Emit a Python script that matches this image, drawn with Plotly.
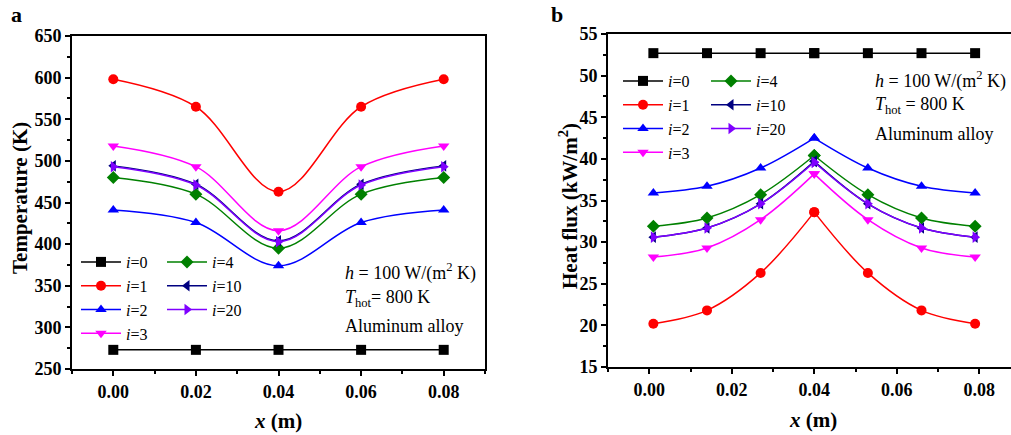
import plotly.graph_objects as go

W, H = 1011, 435

# ---- data -------------------------------------------------------------
labels = ["0", "1", "2", "3", "4", "10", "20"]

# panel a: temperature along the plate
x_a = [0.00, 0.02, 0.04, 0.06, 0.08]
temp = {
    "0": [273, 273, 273, 273, 273],
    "1": [598, 565, 463, 565, 598],
    "2": [441, 426, 374, 426, 441],
    "3": [518, 493, 416, 493, 518],
    "4": [480, 460, 395, 460, 480],
    "10": [494, 472, 404, 472, 494],
    "20": [493, 471, 403, 471, 493],
}

# panel b: heat flux along the plate
x_b = [0.001, 0.014, 0.027, 0.040, 0.053, 0.066, 0.079]
flux = {
    "0": [52.7, 52.7, 52.7, 52.7, 52.7, 52.7, 52.7],
    "1": [20.2, 21.8, 26.3, 33.6, 26.3, 21.8, 20.2],
    "2": [35.9, 36.7, 38.9, 42.5, 38.9, 36.7, 35.9],
    "3": [28.2, 29.3, 32.7, 38.2, 32.7, 29.3, 28.2],
    "4": [31.9, 32.9, 35.7, 40.4, 35.7, 32.9, 31.9],
    "10": [30.6, 31.7, 34.6, 39.7, 34.6, 31.7, 30.6],
    "20": [30.6, 31.7, 34.6, 39.6, 34.6, 31.7, 30.6],
}

colors = {
    "0": "#000000", "1": "#FF0000", "2": "#0000FF", "3": "#FF00FF",
    "4": "#008000", "10": "#000080", "20": "#7F00FF",
}
symbols = {
    "0": "square", "1": "circle", "2": "triangle-up", "3": "triangle-down",
    "4": "diamond", "10": "triangle-left", "20": "triangle-right",
}
col1 = ["0", "1", "2", "3"]

SERIF = "Liberation Serif"


def px(x):
    return x / W


def py(y):
    return 1 - y / H


fig = go.Figure()

for k in labels:
    name = f"<i>i</i>={k}"
    style = dict(color=colors[k], width=1.5, shape="spline", smoothing=1.0)
    mk = dict(symbol=symbols[k], size=10, color=colors[k], line=dict(width=0))
    # panel a
    fig.add_trace(go.Scatter(
        x=x_a, y=temp[k], mode="lines+markers", name=name,
        line=style, marker=mk, xaxis="x", yaxis="y",
        legend="legend" if k in col1 else "legend2",
    ))
    # panel b: each half is smoothed separately so the peak stays sharp
    fig.add_trace(go.Scatter(
        x=x_b[:4], y=flux[k][:4], mode="lines+markers", name=name,
        line=style, marker=mk, xaxis="x2", yaxis="y2",
        legend="legend3" if k in col1 else "legend4",
    ))
    fig.add_trace(go.Scatter(
        x=x_b[3:], y=flux[k][3:], mode="lines+markers", name=name,
        line=style, marker=mk, xaxis="x2", yaxis="y2", showlegend=False,
    ))

tickfont = dict(family=SERIF, size=18, color="black", weight="bold")
common_axis = dict(
    showline=True, linecolor="black", linewidth=2, ticks="outside",
    ticklen=5, tickwidth=1.5, tickcolor="black", showgrid=False,
    zeroline=False, tickfont=tickfont, automargin=False,
)

fig.update_layout(
    width=W, height=H, margin=dict(l=0, r=0, t=0, b=0),
    paper_bgcolor="white", plot_bgcolor="white",
    xaxis=dict(common_axis, domain=[px(72), px(485)], range=[-0.01, 0.09],
               tickvals=[0, 0.02, 0.04, 0.06, 0.08], tickformat=".2f",
               mirror=True, anchor="y",
               minor=dict(dtick=0.01, tick0=0, ticks="outside", ticklen=3,
                          tickcolor="black")),
    yaxis=dict(common_axis, domain=[py(369), py(36)], range=[250, 650],
               dtick=50, mirror=True, anchor="x",
               minor=dict(dtick=25, ticks="outside", ticklen=3,
                          tickcolor="black")),
    xaxis2=dict(common_axis, domain=[px(608), 1.0],
                range=[-0.01, -0.01 + (W - 608) / 4125],
                tickvals=[0, 0.02, 0.04, 0.06, 0.08], tickformat=".2f",
                mirror=True, anchor="y2",
                minor=dict(dtick=0.01, tick0=0, ticks="outside", ticklen=3,
                           tickcolor="black")),
    yaxis2=dict(common_axis, domain=[py(367), py(34)], range=[15, 55],
                dtick=5, mirror=False, anchor="x2",
                minor=dict(dtick=2.5, ticks="outside", ticklen=3,
                           tickcolor="black")),
)

legend_common = dict(
    bgcolor="rgba(0,0,0,0)", borderwidth=0, xanchor="left", yanchor="top",
    font=dict(family=SERIF, size=16, color="black"),
    itemwidth=40, tracegroupgap=0, traceorder="normal",
)
fig.update_layout(
    legend=dict(legend_common, x=px(76), y=py(245)),
    legend2=dict(legend_common, x=px(162), y=py(245)),
    legend3=dict(legend_common, x=px(618), y=py(64)),
    legend4=dict(legend_common, x=px(706), y=py(64)),
)

txt = dict(family=SERIF, size=18, color="black")
bold_big = dict(family=SERIF, size=21, color="black", weight="bold")
notes = [
    ("<i>h</i> = 100 W/(m<sup>2</sup> K)", 343, 272),
    ("<i>T</i><sub>hot</sub>= 800 K", 343, 298),
    ("Aluminum alloy", 343, 326),
]
notes_b = [
    ("<i>h</i> = 100 W/(m<sup>2</sup> K)", 873, 80),
    ("<i>T</i><sub>hot</sub> = 800 K", 873, 105),
    ("Aluminum alloy", 873, 134),
]
annotations = []
for t, xx, yy in notes + notes_b:
    annotations.append(dict(text=t, x=px(xx), y=py(yy), xref="paper",
                            yref="paper", xanchor="left", yanchor="middle",
                            showarrow=False, font=txt))
# axis titles and panel letters
annotations += [
    dict(text="Temperature (K)", x=px(20), y=py(198), textangle=-90,
         font=bold_big),
    dict(text="Heat flux (kW/m<sup>2</sup>)", x=px(568), y=py(206),
         textangle=-90, font=bold_big),
    dict(text="<i>x</i> (m)", x=px(278), y=py(421), font=bold_big),
    dict(text="<i>x</i> (m)", x=px(813), y=py(420), font=bold_big),
    dict(text="a", x=px(16), y=py(14), font=dict(bold_big, size=22)),
    dict(text="b", x=px(557), y=py(14), font=dict(bold_big, size=22)),
]
for a in annotations[len(notes) + len(notes_b):]:
    a.update(xref="paper", yref="paper", showarrow=False,
             xanchor="center", yanchor="middle")
fig.update_layout(annotations=annotations)

fig.write_html("out.html")
